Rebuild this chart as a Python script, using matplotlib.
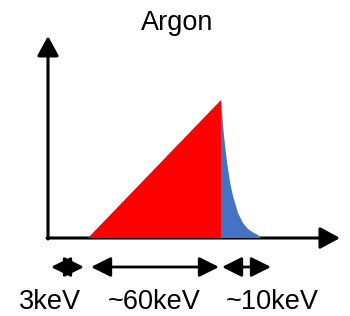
import matplotlib
matplotlib.use("Agg")
import matplotlib.pyplot as plt

plt.rcParams['font.family'] = ['Liberation Sans', 'DejaVu Sans']

# Spectrum shape (arbitrary units: energy axis, intensity axis)
red_x = [40, 173, 173]
red_y = [0, 138, 0]
tail_x = [173, 176, 179, 182, 185, 190, 195, 200, 205, 210, 213]
tail_y = [138, 102, 76, 56, 42, 25, 15, 9, 5.5, 3, 0]

# Energy bands below axis
band_start = [3, 43, 174]
band_end = [36, 171, 223]
band_labels = ["3keV", "~60keV", "~10keV"]
label_x = [2, 106, 224]

title = "Argon"

fig = plt.figure(figsize=(3.5, 3.16), dpi=100)
ax = fig.add_axes([0, 0, 1, 1])
ax.set_xlim(-48, 302)
ax.set_ylim(-78, 238)
ax.axis('off')

# fills
ax.fill(tail_x + [173], tail_y + [0], color='#4472C4', lw=0, zorder=2)
ax.fill(red_x, red_y, color='#FF0000', lw=0, zorder=3)

# axes arrows
axkw = dict(arrowstyle='-|>,head_length=0.55,head_width=0.3', lw=2.2, color='black',
            shrinkA=0, shrinkB=0, mutation_scale=22)
ax.annotate('', xy=(0, 202), xytext=(0, -1), arrowprops=axkw, zorder=1)
ax.annotate('', xy=(292, 0), xytext=(-1, 0), arrowprops=axkw, zorder=1)

# band arrows
bkw = dict(arrowstyle='<|-|>,head_length=0.6,head_width=0.3', lw=2.0, color='black',
           shrinkA=0, shrinkB=0, mutation_scale=20)
for s, e in zip(band_start, band_end):
    ax.annotate('', xy=(e, -29), xytext=(s, -29), arrowprops=bkw)

for x, lab in zip(label_x, band_labels):
    ax.text(x, -64, lab, ha='center', va='center', fontsize=19.5)

ax.text(129, 215, title, ha='center', va='center', fontsize=19.5)

fig.savefig('out.png', dpi=100)
